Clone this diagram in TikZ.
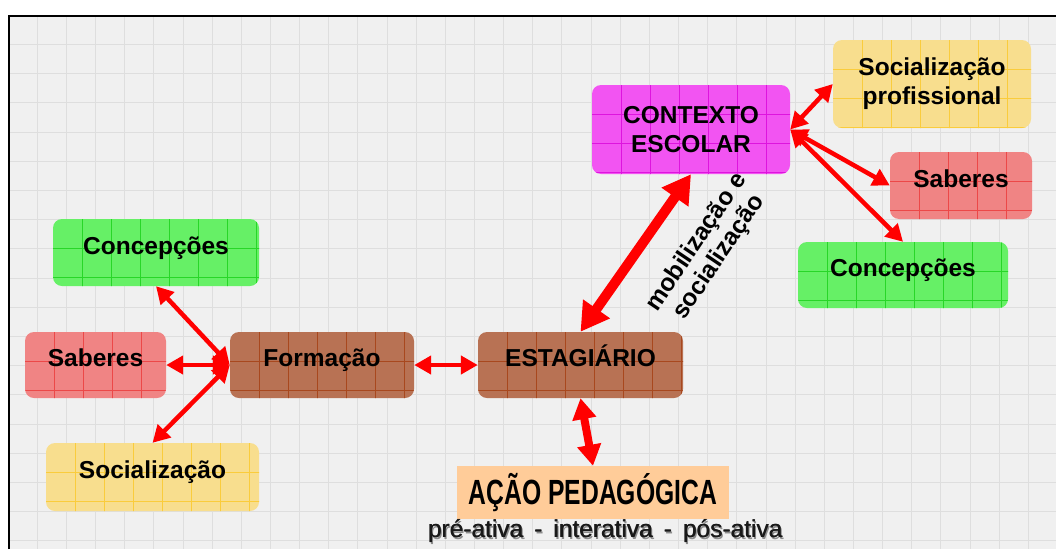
\documentclass[tikz,border=0pt]{standalone}
\usepackage{fontspec}
\setmainfont{Liberation Sans}
\usepackage{graphicx}
\usetikzlibrary{arrows.meta, positioning}

\definecolor{pagebg}{RGB}{240,240,240}
\definecolor{pageline}{RGB}{222,222,222}
\definecolor{magbox}{RGB}{242,84,242}
\definecolor{magline}{RGB}{222,20,222}
\definecolor{yelbox}{RGB}{248,222,142}
\definecolor{yelline}{RGB}{250,204,60}
\definecolor{redbox}{RGB}{240,132,132}
\definecolor{redline}{RGB}{236,72,72}
\definecolor{grnbox}{RGB}{102,240,102}
\definecolor{grnline}{RGB}{40,214,40}
\definecolor{brnbox}{RGB}{184,114,84}
\definecolor{brnline}{RGB}{168,72,30}
\definecolor{acaobox}{RGB}{255,204,153}
\definecolor{linkred}{RGB}{255,0,0}

\newcommand{\shadowed}[1]{\leavevmode\rlap{\kern1.6pt\lower1.6pt\hbox{\color{black!45}#1}}\rlap{\kern0.6pt\hbox{#1}}#1}

\begin{document}
\begin{tikzpicture}[x=1pt, y=-1pt,
    cellbox/.style 2 args={rounded corners=9pt, fill=#1, inner sep=0pt,
      font=\fontsize{24.5}{29}\selectfont\bfseries, align=center,
      path picture={\foreach \k in {1,...,8} {
        \draw[#2, line width=0.9pt] ([xshift=\k*29pt]path picture bounding box.north west) -- ++(0pt,-120pt);
        \draw[#2, line width=0.9pt] ([yshift=-\k*29pt]path picture bounding box.north west) -- ++(240pt,0pt);}}},
    oneline/.style={text height=18pt, text depth=15pt},
    thinlink/.style={draw=linkred, line width=4.5pt, >={Triangle[length=17pt, width=18pt]}, <->},
    midlink/.style={draw=linkred, line width=8pt, >={Triangle[length=21pt, width=23pt]}, <->},
    widelink/.style={draw=linkred, line width=10pt, >={Triangle[length=28pt, width=31pt]}, <->}]
    \useasboundingbox (0,0) rectangle (1056,549);
    \fill[white] (0,0) rectangle (1056,549);
    \fill[pagebg] (9,17) rectangle (1056,549);
    \foreach \k in {1,...,35}
      \draw[pageline, line width=0.8pt] ({8+29.15*\k},17) -- ({8+29.15*\k},549);
    \foreach \k in {1,...,18}
      \draw[pageline, line width=0.8pt] (9,{15.1+29.2*\k}) -- (1056,{15.1+29.2*\k});
    \draw[line width=2pt] (9,549) -- (9,16) -- (1056,16);

    \node[cellbox={grnbox}{grnline}, oneline, minimum width=206pt, minimum height=67pt] (concL) at (156,252.5) {Concepções};
    \node[cellbox={redbox}{redline}, oneline, minimum width=141pt, minimum height=66pt] (sabL) at (95.5,365) {Saberes};
    \node[cellbox={brnbox}{brnline}, oneline, minimum width=184pt, minimum height=66pt] (form) at (322,365) {Formação};
    \node[cellbox={yelbox}{yelline}, oneline, minimum width=213pt, minimum height=68pt] (socL) at (152.5,477) {Socialização};
    \node[cellbox={brnbox}{brnline}, oneline, minimum width=205pt, minimum height=66pt] (estag) at (580.5,365) {ESTAGIÁRIO};
    \node[cellbox={magbox}{magline}, minimum width=198pt, minimum height=89pt] (ctx) at (691,129.5) {CONTEXTO\\ESCOLAR};
    \node[cellbox={yelbox}{yelline}, minimum width=198pt, minimum height=88pt] (socprof) at (932,84) {Socialização\\profissional};
    \node[cellbox={redbox}{redline}, oneline, minimum width=142pt, minimum height=67pt] (sabR) at (961,185.5) {Saberes};
    \node[cellbox={grnbox}{grnline}, oneline, minimum width=210pt, minimum height=66pt] (concR) at (903,275) {Concepções};
    \node[fill=acaobox, inner sep=0pt, minimum width=272pt, minimum height=53pt] (acao) at (593,492.5)
      {\scalebox{0.705}[1]{\fontsize{35}{40}\selectfont\bfseries AÇÃO PEDAGÓGICA}};
    \node[inner sep=0pt, below=0pt of acao, xshift=12pt, text=black!90, font=\fontsize{24.5}{28}\selectfont] (fases)
      {\shadowed{pré-ativa\hspace{11pt}-\hspace{11pt}interativa\hspace{11pt}-\hspace{11pt}pós-ativa}};
    \node[rotate=56, align=center, font=\fontsize{24.5}{27}\selectfont\bfseries] (mobil) at (708,250) {mobilização e\\socialização};

    \draw[thinlink] (form.west) -- (concL.south);
    \draw[thinlink] (form.west) -- (sabL.east);
    \draw[thinlink] (form.west) -- (socL.north);
    \draw[thinlink] (form.east) -- (estag.west);
    \draw[widelink] (estag.north) -- (ctx.south);
    \draw[midlink] (estag.south) -- (acao.north);
    \draw[thinlink] (ctx.east) -- (socprof.west);
    \draw[thinlink] (ctx.east) -- (sabR.west);
    \draw[thinlink] (ctx.east) -- (concR.north);
  \end{tikzpicture}
\end{document}
